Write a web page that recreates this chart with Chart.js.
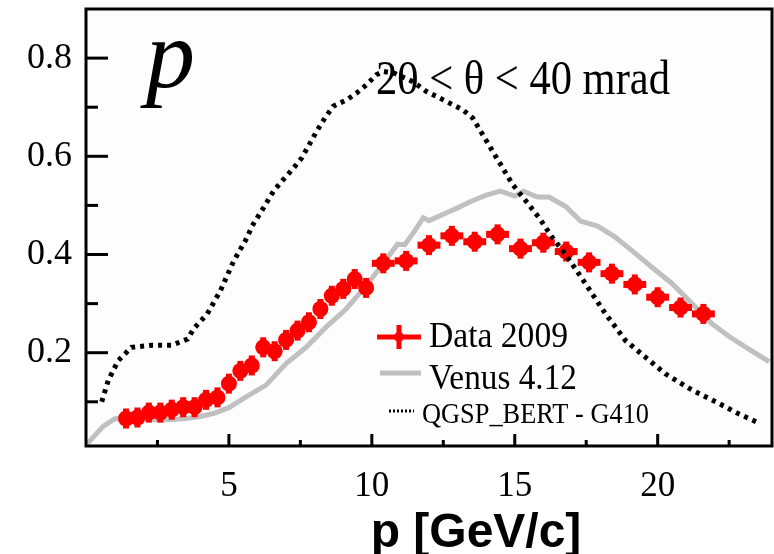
<!DOCTYPE html>
<html>
<head>
<meta charset="utf-8">
<script src="https://cdn.jsdelivr.net/npm/chart.js@4.4.1/dist/chart.umd.min.js"></script>
<style>
  html, body { margin: 0; padding: 0; background: #fff; }
  #wrap { width: 774px; height: 554px; }
</style>
</head>
<body>
<div id="wrap"><canvas id="chart" width="774" height="554"></canvas></div>
<script>
// Data 2009 (bin centres, values, half bin widths)
const dataP = [1.4, 1.8, 2.2, 2.6, 3.0, 3.4, 3.8, 4.2, 4.6, 5.0, 5.4, 5.8, 6.2, 6.6, 7.0, 7.4, 7.8, 8.2, 8.6, 9.0, 9.4, 9.8,
  10.4, 11.2, 12.0, 12.8, 13.6, 14.4, 15.2, 16.0, 16.8, 17.6, 18.4, 19.2, 20.0, 20.8, 21.6];
const dataY = [0.066, 0.068, 0.078, 0.078, 0.084, 0.089, 0.089, 0.104, 0.109, 0.137, 0.163, 0.174, 0.211, 0.203, 0.226,
  0.245, 0.262, 0.289, 0.316, 0.330, 0.350, 0.332,
  0.382, 0.387, 0.419, 0.438, 0.426, 0.441, 0.412, 0.424, 0.406, 0.384, 0.361, 0.339, 0.313, 0.292, 0.279];
const dataErrP = [0.2, 0.2, 0.2, 0.2, 0.2, 0.2, 0.2, 0.2, 0.2, 0.2, 0.2, 0.2, 0.2, 0.2, 0.2, 0.2, 0.2, 0.2, 0.2, 0.2, 0.2, 0.2,
  0.4, 0.4, 0.4, 0.4, 0.4, 0.4, 0.4, 0.4, 0.4, 0.4, 0.4, 0.4, 0.4, 0.4, 0.4];

// Venus 4.12
const venusP = [0.05, 0.6, 1.0, 1.5, 2.0, 2.5, 3.0, 3.5, 4.0, 4.5, 5.0, 5.6, 6.3, 7.0, 7.7, 8.4, 9.1, 9.8, 10.3, 10.9, 11.15,
  11.5, 11.8, 12.0, 12.5, 13.0, 13.5, 14.0, 14.5, 15.0, 15.3, 15.8, 16.2, 16.8, 17.3, 17.9, 18.5, 19.1, 19.8, 20.5,
  21.2, 21.9, 22.5, 23.2, 23.9];
const venusY = [0.015, 0.05, 0.065, 0.07, 0.066, 0.063, 0.064, 0.066, 0.07, 0.077, 0.088, 0.11, 0.134, 0.178, 0.211, 0.252,
  0.289, 0.336, 0.374, 0.421, 0.42, 0.448, 0.475, 0.469, 0.482, 0.495, 0.509, 0.521, 0.529, 0.519, 0.529, 0.517, 0.517,
  0.497, 0.468, 0.458, 0.436, 0.408, 0.374, 0.341, 0.300, 0.259, 0.233, 0.207, 0.182];

// QGSP_BERT - G410
const qgspP = [0.55, 0.78, 1.13, 1.59, 2.29, 2.99, 3.56, 3.77, 4.24, 4.70, 5.17, 5.63, 5.81, 6.21, 6.56, 6.91, 7.26, 7.55,
  7.84, 8.07, 8.36, 8.65, 9.12, 9.47, 9.82, 10.16, 10.39, 10.8, 11.44, 11.91, 12.6, 13.18, 13.53, 13.88, 14.23, 14.58,
  14.92, 15.39, 15.85, 16.31, 16.78, 17.25, 17.71, 18.18, 18.87, 19.57, 20.27, 21.2, 22.13, 22.82, 23.46];
const qgspY = [0.10, 0.144, 0.184, 0.211, 0.215, 0.215, 0.228, 0.249, 0.279, 0.326, 0.387, 0.434, 0.458, 0.495, 0.529,
  0.553, 0.576, 0.597, 0.627, 0.651, 0.678, 0.702, 0.715, 0.729, 0.746, 0.766, 0.773, 0.769, 0.752, 0.732, 0.712, 0.695,
  0.678, 0.644, 0.61, 0.576, 0.543, 0.509, 0.475, 0.435, 0.40, 0.36, 0.32, 0.279, 0.225, 0.191, 0.157, 0.124, 0.097,
  0.076, 0.059];

// axes
const xTicks = [2.5, 5, 7.5, 10, 12.5, 15, 17.5, 20, 22.5];
const xLabels = [5, 10, 15, 20];
const yTicks = [0.1, 0.2, 0.3, 0.4, 0.5, 0.6, 0.7, 0.8];
const yLabels = ["0.2", "0.4", "0.6", "0.8"];

const RED = "#ff0000";
const GREY = "#c0c0c0";
const SERIF = '"Liberation Serif", "Times New Roman", serif';

const toPts = (xs, ys) => xs.map((x, i) => ({ x: x, y: ys[i] }));

// plot background
const bgPlugin = {
  id: "plotBg",
  beforeDraw(chart) {
    const { ctx, chartArea: a } = chart;
    ctx.save();
    ctx.fillStyle = "#fdfdfd";
    ctx.fillRect(a.left, a.top, a.right - a.left, a.bottom - a.top);
    ctx.restore();
  },
};

// horizontal error bars and the cross of each marker
const errPlugin = {
  id: "errBars",
  afterDatasetDraw(chart, args) {
    if (args.index !== 1) return;
    const { ctx } = chart;
    const xs = chart.scales.x;
    ctx.save();
    ctx.strokeStyle = RED;
    args.meta.data.forEach((pt, i) => {
      const x1 = xs.getPixelForValue(dataP[i] - dataErrP[i]);
      const x2 = xs.getPixelForValue(dataP[i] + dataErrP[i]);
      ctx.lineWidth = 7;
      ctx.beginPath();
      ctx.moveTo(x1, pt.y);
      ctx.lineTo(x2, pt.y);
      ctx.stroke();
      ctx.lineWidth = 6;
      ctx.beginPath();
      ctx.moveTo(pt.x, pt.y - 10);
      ctx.lineTo(pt.x, pt.y + 10);
      ctx.stroke();
    });
    ctx.restore();
  },
};

// legend inside the plot
const legendPlugin = {
  id: "innerLegend",
  afterDatasetsDraw(chart) {
    const { ctx } = chart;
    ctx.save();
    // Data 2009
    ctx.strokeStyle = RED;
    ctx.lineWidth = 5;
    ctx.beginPath(); ctx.moveTo(377, 337); ctx.lineTo(421, 337); ctx.stroke();
    ctx.beginPath(); ctx.moveTo(399, 325); ctx.lineTo(399, 349); ctx.stroke();
    ctx.fillStyle = RED;
    ctx.beginPath(); ctx.arc(399, 337, 5, 0, Math.PI * 2); ctx.fill();

    // Venus
    ctx.strokeStyle = GREY;
    ctx.lineWidth = 5;
    ctx.beginPath(); ctx.moveTo(380, 373); ctx.lineTo(421, 373); ctx.stroke();

    // QGSP
    ctx.strokeStyle = "#000";
    ctx.lineWidth = 3;
    ctx.setLineDash([2, 2]);
    ctx.beginPath(); ctx.moveTo(389, 411); ctx.lineTo(414, 411); ctx.stroke();
    ctx.setLineDash([]);

    ctx.fillStyle = "#000";
    ctx.textAlign = "left";
    ctx.textBaseline = "alphabetic";
    ctx.font = "36px " + SERIF;
    ctx.fillText("Data 2009", 429, 347, 139);
    ctx.font = "35px " + SERIF;
    ctx.fillText("Venus 4.12", 429, 389, 148);
    ctx.font = "30px " + SERIF;
    ctx.fillText("QGSP_BERT - G410", 422, 423, 227);
    ctx.restore();
  },
};

// frame, inward ticks and free text
const framePlugin = {
  id: "frame",
  afterDraw(chart) {
    const { ctx, chartArea: a } = chart;
    const xs = chart.scales.x;
    const ys = chart.scales.y;
    ctx.save();
    ctx.strokeStyle = "#000";
    ctx.lineWidth = 3;
    ctx.strokeRect(a.left, a.top, a.right - a.left, a.bottom - a.top);

    yTicks.forEach((v) => {
      const y = ys.getPixelForValue(v);
      const len = yLabels.includes(v.toFixed(1)) ? 22 : 12;
      ctx.beginPath(); ctx.moveTo(a.left, y); ctx.lineTo(a.left + len, y); ctx.stroke();
    });
    xTicks.forEach((v) => {
      const x = xs.getPixelForValue(v);
      const len = xLabels.includes(v) ? 12 : 6;
      ctx.beginPath(); ctx.moveTo(x, a.bottom); ctx.lineTo(x, a.bottom - len); ctx.stroke();
    });

    ctx.fillStyle = "#000";
    ctx.textBaseline = "alphabetic";
    ctx.textAlign = "left";
    ctx.font = "italic 98px " + SERIF;
    ctx.fillText("p", a.left + 60, a.top + 78);

    ctx.font = "49px " + SERIF;
    ctx.fillText("20 < \u03b8 < 40 mrad", 376, 94, 294);

    ctx.font = 'bold 48px "Liberation Sans", Arial, sans-serif';
    ctx.textAlign = "center";
    ctx.fillText("p [GeV/c]", 476, 547, 222);
    ctx.restore();
  },
};

const chart = new Chart(document.getElementById("chart"), {
  type: "scatter",
  data: {
    datasets: [
      {
        label: "QGSP_BERT - G410",
        data: toPts(qgspP, qgspY),
        showLine: true,
        borderColor: "#000",
        borderWidth: 5,
        borderDash: [4, 5],
        pointRadius: 0,
        order: 0,
      },
      {
        label: "Data 2009",
        data: toPts(dataP, dataY),
        showLine: false,
        pointRadius: 8,
        pointBorderWidth: 0,
        pointBackgroundColor: RED,
        order: 1,
      },
      {
        label: "Venus 4.12",
        data: toPts(venusP, venusY),
        showLine: true,
        borderColor: GREY,
        borderWidth: 5,
        pointRadius: 0,
        order: 2,
      },
    ],
  },
  options: {
    responsive: false,
    animation: false,
    devicePixelRatio: 1,
    layout: { autoPadding: false, padding: { top: 9, right: 2, left: 0, bottom: 0 } },
    plugins: { legend: { display: false }, tooltip: { enabled: false } },
    scales: {
      x: {
        type: "linear",
        min: 0,
        max: 24,
        afterBuildTicks: (s) => { s.ticks = xTicks.map((v) => ({ value: v })); },
        afterFit: (s) => { s.height = 108; s.paddingLeft = 0; s.paddingRight = 0; },
        grid: { display: false, drawTicks: false },
        border: { display: false },
        ticks: {
          autoSkip: false,
          maxRotation: 0,
          padding: 20,
          color: "#000",
          font: { family: SERIF, size: 35 },
          callback: (v) => (xLabels.includes(v) ? String(v) : ""),
        },
      },
      y: {
        type: "linear",
        min: 0.01,
        max: 0.9,
        afterBuildTicks: (s) => { s.ticks = yTicks.map((v) => ({ value: v })); },
        afterFit: (s) => { s.width = 86; s.paddingTop = 0; s.paddingBottom = 0; },
        grid: { display: false, drawTicks: false },
        border: { display: false },
        ticks: {
          autoSkip: false,
          padding: 14,
          color: "#000",
          font: { family: SERIF, size: 36 },
          callback: (v) => (yLabels.includes(v.toFixed(1)) ? v.toFixed(1) : ""),
        },
      },
    },
  },
  plugins: [bgPlugin, errPlugin, legendPlugin, framePlugin],
});
</script>
</body>
</html>
